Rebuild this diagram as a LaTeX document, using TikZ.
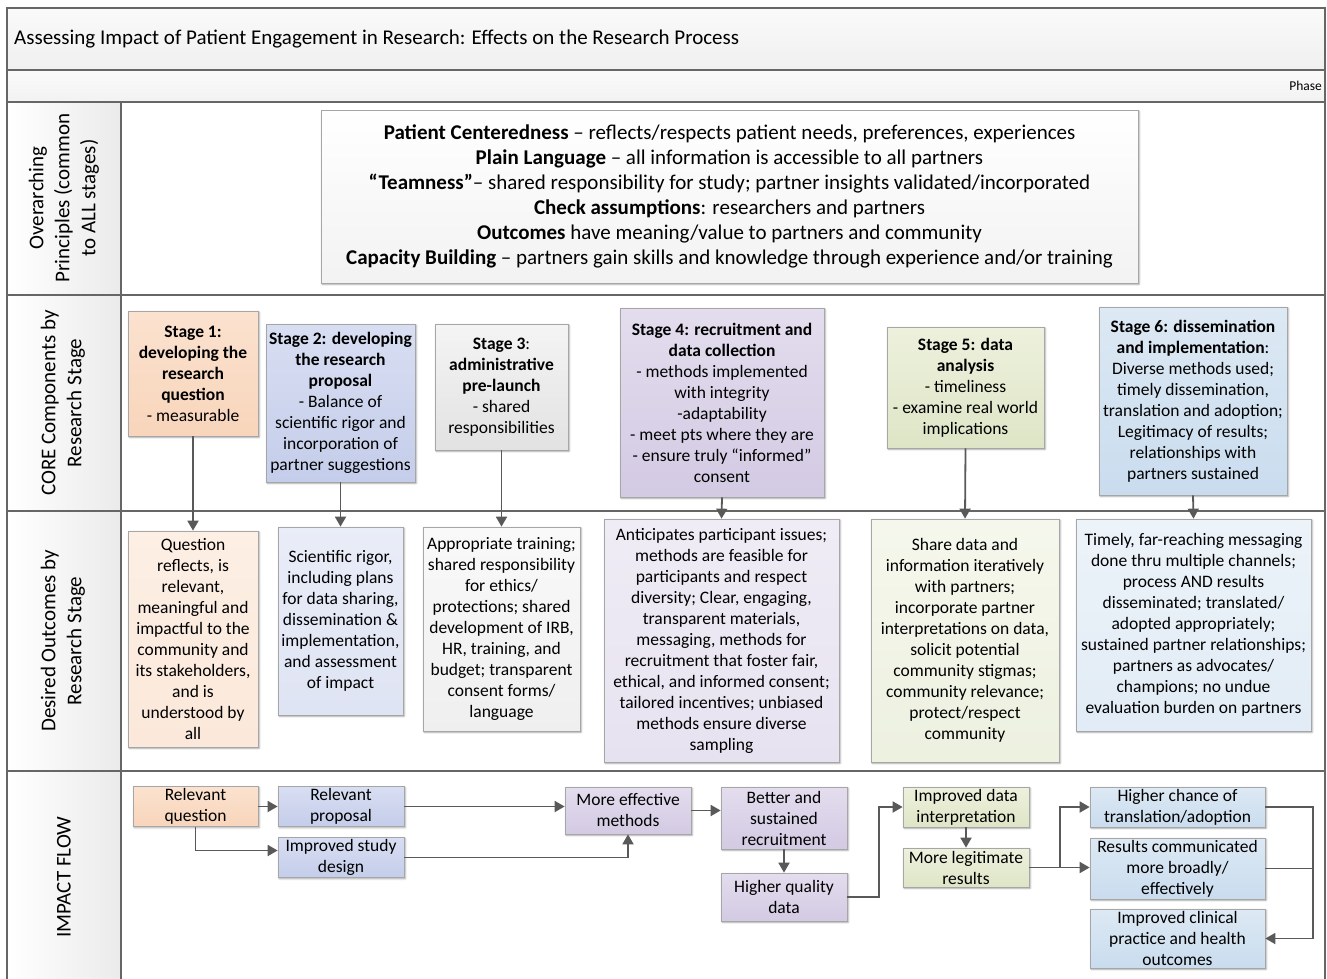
\documentclass[tikz,border=0pt]{standalone}
\usepackage{fontspec}
\setmainfont{Carlito}
\usepackage{tikz}
\usetikzlibrary{
  arrows.meta,
  positioning,
  shadows.blur
}
\definecolor{laneline}{HTML}{666666}
\definecolor{boxline}{HTML}{A6A6A6}
\definecolor{arrowline}{HTML}{595959}
\definecolor{peachA}{HTML}{FBE2CF}
\definecolor{peachB}{HTML}{F8D5BB}
\definecolor{blueA}{HTML}{D8DEF2}
\definecolor{blueB}{HTML}{C4CDEA}
\definecolor{grayA}{HTML}{F4F4F4}
\definecolor{grayB}{HTML}{E2E2E2}
\definecolor{purpA}{HTML}{E3DDEE}
\definecolor{purpB}{HTML}{D3CAE3}
\definecolor{greenA}{HTML}{EDF1DD}
\definecolor{greenB}{HTML}{DEE5C6}
\definecolor{skyA}{HTML}{DDE9F4}
\definecolor{skyB}{HTML}{C9DCEE}

\begin{document}
\begin{tikzpicture}[
  x=1pt, y=-1pt,
  every node/.style={font=\fontsize{17.5}{21}\selectfont},
  lane/.style={draw=laneline, line width=1.3pt},
  box/.style={draw=boxline, line width=0.7pt, align=center, inner sep=2pt,
    blur shadow={shadow xshift=1.2pt, shadow yshift=-1.2pt, shadow blur steps=4, shadow opacity=35}},
  link/.style={draw=arrowline, line width=1.8pt},
  flow/.style={link, -{Triangle[length=10pt,width=11pt]}},
  side/.style={rotate=90, align=center, font=\fontsize{21}{26}\selectfont},
  peach/.style={top color=peachA, bottom color=peachB},
  blue/.style={top color=blueA, bottom color=blueB},
  grey/.style={top color=grayA, bottom color=grayB},
  purp/.style={top color=purpA, bottom color=purpB},
  green/.style={top color=greenA, bottom color=greenB},
  sky/.style={top color=skyA, bottom color=skyB},
  pale/.style={top color=#1A!55!white, bottom color=#1B!55!white}
]
  \useasboundingbox (0,0) rectangle (1327,979);

  % bands
  \shade[top color=gray!4, bottom color=gray!12] (7,8) rectangle (1325,70);
  \shade[top color=gray!4, bottom color=gray!10] (7,70) rectangle (1325,102);
  \shade[left color=white, right color=gray!16] (7,102) rectangle (121,979);

  % lanes
  \draw[lane] (7,979) -- (7,8) -- (1325,8) -- (1325,979);
  \draw[lane] (7,70) -- (1325,70);
  \draw[lane] (7,102) -- (1325,102);
  \draw[lane] (7,295) -- (1325,295);
  \draw[lane] (7,511) -- (1325,511);
  \draw[lane] (7,771) -- (1325,771);
  \draw[lane] (121,102) -- (121,979);

  % headings
  \node[anchor=west, inner sep=0pt, font=\fontsize{21}{25}\selectfont] (title) at (14,39)
    {Assessing Impact of Patient Engagement in Research: Effects on the Research Process};
  \node[anchor=east, inner sep=1pt, font=\fontsize{13.5}{16}\selectfont] (phase) at (1323,86) {Phase};
  \node[side] (rowA) at (64,198) {Overarching\\Principles (common\\to ALL stages)};
  \node[side] (rowB) at (63,403) {CORE Components by\\Research Stage};
  \node[side] (rowC) at (63,641) {Desired Outcomes by\\Research Stage};
  \node[side] (rowD) at (64,877) {IMPACT FLOW};

  % principles
  \node[box, top color=white, bottom color=gray!10, minimum width=817pt, minimum height=173pt,
    font=\fontsize{21}{25}\selectfont] (principles) at (729.5,196.5)
    {\textbf{Patient Centeredness} -- reflects/respects patient needs, preferences, experiences\\
     \textbf{Plain Language} -- all information is accessible to all partners\\
     \textbf{“Teamness”}-- shared responsibility for study; partner insights validated/incorporated\\
     \textbf{Check assumptions}: researchers and partners\\
     \textbf{Outcomes} have meaning/value to partners and community\\
     \textbf{Capacity Building} -- partners gain skills and knowledge through experience and/or training};

  % core components
  \node[box, peach, minimum width=130pt, minimum height=125pt] (s1) at (193,373.5)
    {\textbf{Stage 1:}\\\textbf{developing the}\\\textbf{research}\\\textbf{question}\\- measurable};
  \node[box, blue, minimum width=149pt, minimum height=158pt] (s2) at (340.5,403)
    {\textbf{Stage 2: developing}\\\textbf{the research}\\\textbf{proposal}\\- Balance of\\scientific rigor and\\incorporation of\\partner suggestions};
  \node[box, grey, minimum width=133pt, minimum height=126pt] (s3) at (501.5,387)
    {\textbf{Stage 3}:\\\textbf{administrative}\\\textbf{pre-launch}\\- shared\\responsibilities};
  \node[box, purp, minimum width=204pt, minimum height=189pt] (s4) at (722,402.5)
    {\textbf{Stage 4: recruitment and}\\\textbf{data collection}\\- methods implemented\\with integrity\\-adaptability\\- meet pts where they are\\- ensure truly “informed”\\consent};
  \node[box, green, minimum width=157pt, minimum height=121pt] (s5) at (965.5,387.5)
    {\textbf{Stage 5: data}\\\textbf{analysis}\\- timeliness\\- examine real world\\implications};
  \node[box, sky, minimum width=188pt, minimum height=188pt] (s6) at (1193,401)
    {\textbf{Stage 6: dissemination}\\\textbf{and implementation}:\\Diverse methods used;\\timely dissemination,\\translation and adoption;\\Legitimacy of results;\\relationships with\\partners sustained};

  % desired outcomes
  \node[box, pale=peach, minimum width=130pt, minimum height=216pt] (o1) at (193,639)
    {Question\\reflects, is\\relevant,\\meaningful and\\impactful to the\\community and\\its stakeholders,\\and is\\understood by\\all};
  \node[box, pale=blue, minimum width=125pt, minimum height=188pt] (o2) at (340.5,621)
    {Scientific rigor,\\including plans\\for data sharing,\\dissemination \&\\implementation,\\and assessment\\of impact};
  \node[box, pale=gray, minimum width=157pt, minimum height=204pt] (o3) at (501.5,629)
    {Appropriate training;\\shared responsibility\\for ethics/\\protections; shared\\development of IRB,\\HR, training, and\\budget; transparent\\consent forms/\\language};
  \node[box, pale=purp, minimum width=235pt, minimum height=243pt] (o4) at (721.5,640.5)
    {Anticipates participant issues;\\methods are feasible for\\participants and respect\\diversity; Clear, engaging,\\transparent materials,\\messaging, methods for\\recruitment that foster fair,\\ethical, and informed consent;\\tailored incentives; unbiased\\methods ensure diverse\\sampling};
  \node[box, pale=green, minimum width=188pt, minimum height=243pt] (o5) at (965,640.5)
    {Share data and\\information iteratively\\with partners;\\incorporate partner\\interpretations on data,\\solicit potential\\community stigmas;\\community relevance;\\protect/respect\\community};
  \node[box, pale=sky, minimum width=235pt, minimum height=212pt] (o6) at (1193.5,625)
    {Timely, far-reaching messaging\\done thru multiple channels;\\process AND results\\disseminated; translated/\\adopted appropriately;\\sustained partner relationships;\\partners as advocates/\\champions; no undue\\evaluation burden on partners};

  \foreach \i in {1,...,6}
    \draw[flow] (s\i.south) -- (o\i.north);

  % impact flow
  \node[box, peach, minimum width=125pt, minimum height=39pt] (question) at (195.5,806.5) {Relevant\\question};
  \node[box, blue, minimum width=126pt, minimum height=39pt] (proposal) at (341,806.5) {Relevant\\proposal};
  \node[box, blue, minimum width=126pt, minimum height=39pt] (design) at (341,857.5) {Improved study\\design};
  \node[box, purp, minimum width=126pt, minimum height=47pt] (methods) at (628,810.5) {More effective\\methods};
  \node[box, purp, minimum width=126pt, minimum height=62pt] (recruit) at (784,818) {Better and\\sustained\\recruitment};
  \node[box, purp, minimum width=126pt, minimum height=48pt] (quality) at (784,897) {Higher quality\\data};
  \node[box, green, minimum width=126pt, minimum height=40pt] (interp) at (966,807) {Improved data\\interpretation};
  \node[box, green, minimum width=126pt, minimum height=39pt] (legit) at (966,867.5) {More legitimate\\results};
  \node[box, sky, minimum width=175pt, minimum height=40pt] (chance) at (1177.5,807) {Higher chance of\\translation/adoption};
  \node[box, sky, minimum width=175pt, minimum height=59pt] (comm) at (1177.5,868.5) {Results communicated\\more broadly/\\effectively};
  \node[box, sky, minimum width=175pt, minimum height=59pt] (clinical) at (1177.5,938.5) {Improved clinical\\practice and health\\outcomes};

  \coordinate (split) at ([xshift=31pt]legit.east);
  \coordinate (merge) at ([xshift=48pt]chance.east);

  \draw[flow] (question.east) -- (proposal.west);
  \draw[flow] (question.south) |- ([yshift=7pt]design.west);
  \draw[flow] (proposal.east) -- (proposal.east -| methods.west);
  \draw[flow] (design.east) -| (methods.south);
  \draw[flow] (methods.east) -- (methods.east -| recruit.west);
  \draw[flow] (recruit.south) -- (quality.north);
  \draw[flow] (quality.east) -- ([xshift=32pt]quality.east) |- (interp.west);
  \draw[flow] (interp.south) -- (legit.north);
  \draw[flow] (legit.east) -- (legit.east -| comm.west);
  \draw[flow] (split) |- (chance.west);
  \draw[link] (comm.east) -- (comm.east -| merge);
  \draw[flow] (chance.east) -- (merge) |- (clinical.east);

\end{tikzpicture}
\end{document}
